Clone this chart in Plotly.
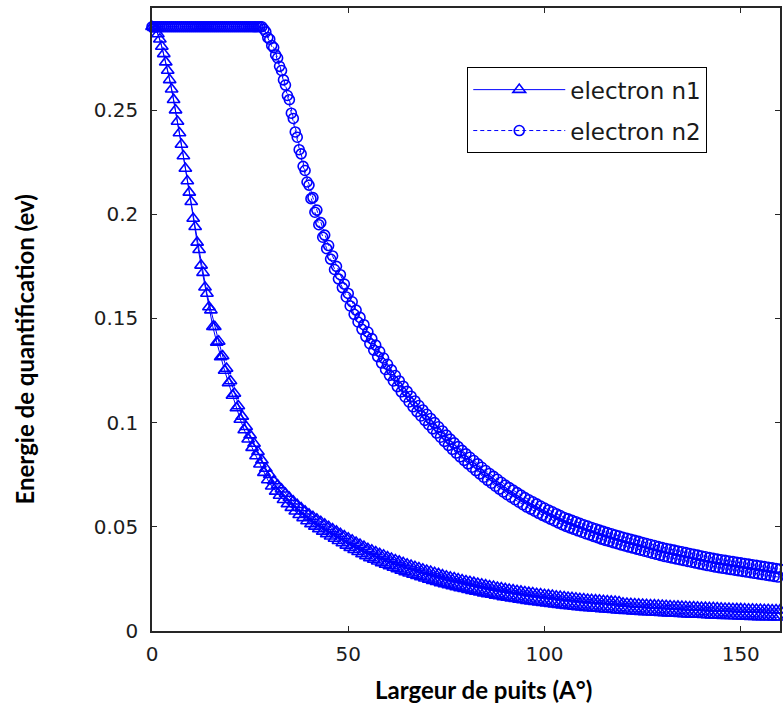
import plotly.graph_objects as go

# Well width (Angstrom): main sweep on whole values, second sweep offset by half a step
largeur = list(range(0, 161))
largeur_b = [v + 0.5 for v in range(0, 160)]

# First electron level (eV), main sweep
electron_n1 = [
    0.290, 0.289, 0.284, 0.277, 0.269, 0.260, 0.250, 0.239, 0.228, 0.216,
    0.206, 0.194, 0.183, 0.172, 0.162, 0.154, 0.146, 0.139, 0.132, 0.126,
    0.120, 0.114, 0.108, 0.103, 0.098, 0.094, 0.090, 0.086, 0.082, 0.078,
    0.075, 0.072, 0.070, 0.068, 0.066, 0.064, 0.0623, 0.0606, 0.0590, 0.0575,
    0.0560, 0.0548, 0.0536, 0.0524, 0.0512, 0.0500, 0.0489, 0.0478, 0.0467, 0.0456,
    0.0445, 0.0435, 0.0425, 0.0415, 0.0405, 0.0395, 0.0387, 0.0379, 0.0371, 0.0363,
    0.0355, 0.0348, 0.0341, 0.0334, 0.0327, 0.0320, 0.0314, 0.0308, 0.0302, 0.0296,
    0.0290, 0.0285, 0.0279, 0.0274, 0.0268, 0.0263, 0.0258, 0.0254, 0.0249, 0.0245,
    0.0240, 0.0236, 0.0232, 0.0228, 0.0224, 0.0220, 0.0216, 0.0213, 0.0209, 0.0206,
    0.0202, 0.0199, 0.0196, 0.0193, 0.0190, 0.0187, 0.0184, 0.0182, 0.0179, 0.0177,
    0.0174, 0.0172, 0.0170, 0.0167, 0.0165, 0.0163, 0.0161, 0.0159, 0.0157, 0.0155,
    0.0153, 0.0151, 0.0150, 0.0148, 0.0147, 0.0145, 0.0144, 0.0142, 0.0141, 0.0139,
    0.0133, 0.0132, 0.0131, 0.0129, 0.0128, 0.0127, 0.0126, 0.0125, 0.0124, 0.0123,
    0.0122, 0.0121, 0.0120, 0.0119, 0.0118, 0.0117, 0.0116, 0.0115, 0.0115, 0.0114,
    0.0113, 0.0112, 0.0111, 0.0111, 0.0110, 0.0109, 0.0108, 0.0108, 0.0107, 0.0106,
    0.0106, 0.0105, 0.0104, 0.0104, 0.0103, 0.0103, 0.0102, 0.0102, 0.0101, 0.0101,
    0.0100,
]

# First electron level (eV), second sweep
electron_n1_b = [
    0.2895, 0.2865, 0.2805, 0.2730, 0.2645, 0.2550, 0.2445, 0.2335, 0.2220, 0.2105,
    0.1980, 0.1865, 0.1755, 0.1650, 0.1555, 0.1460, 0.1385, 0.1315, 0.1250, 0.1190,
    0.1130, 0.1070, 0.1015, 0.0965, 0.0920, 0.0880, 0.0840, 0.0800, 0.0760, 0.0725,
    0.0695, 0.0670, 0.0650, 0.0630, 0.0610, 0.0592, 0.0575, 0.0558, 0.0543, 0.0528,
    0.0514, 0.0502, 0.0490, 0.0478, 0.0466, 0.0455, 0.0444, 0.0433, 0.0422, 0.0411,
    0.0400, 0.0390, 0.0380, 0.0370, 0.0360, 0.0351, 0.0343, 0.0335, 0.0327, 0.0319,
    0.0312, 0.0305, 0.0298, 0.0291, 0.0284, 0.0277, 0.0271, 0.0265, 0.0259, 0.0253,
    0.0248, 0.0242, 0.0237, 0.0231, 0.0226, 0.0221, 0.0216, 0.0212, 0.0207, 0.0203,
    0.0198, 0.0194, 0.0190, 0.0186, 0.0182, 0.0178, 0.0175, 0.0171, 0.0168, 0.0164,
    0.0161, 0.0158, 0.0155, 0.0152, 0.0149, 0.0146, 0.0143, 0.0141, 0.0138, 0.0136,
    0.0133, 0.0131, 0.0129, 0.0126, 0.0124, 0.0122, 0.0120, 0.0118, 0.0116, 0.0114,
    0.0112, 0.0111, 0.0109, 0.0108, 0.0106, 0.0105, 0.0103, 0.0102, 0.0100, 0.0099,
    0.0098, 0.0097, 0.0095, 0.0094, 0.0093, 0.0092, 0.0091, 0.0090, 0.0089, 0.0088,
    0.0087, 0.0086, 0.0085, 0.0084, 0.0083, 0.0082, 0.0081, 0.0080, 0.0080, 0.0079,
    0.0078, 0.0077, 0.0076, 0.0076, 0.0075, 0.0074, 0.0073, 0.0073, 0.0072, 0.0071,
    0.0071, 0.0070, 0.0069, 0.0069, 0.0068, 0.0068, 0.0067, 0.0067, 0.0066, 0.0066,
]

# Second electron level (eV), main sweep
electron_n2 = [
    0.290, 0.290, 0.290, 0.290, 0.290, 0.290, 0.290, 0.290, 0.290, 0.290,
    0.290, 0.290, 0.290, 0.290, 0.290, 0.290, 0.290, 0.290, 0.290, 0.290,
    0.290, 0.290, 0.290, 0.290, 0.290, 0.290, 0.290, 0.290, 0.290, 0.2875,
    0.284, 0.280, 0.275, 0.269, 0.262, 0.255, 0.246, 0.237, 0.229, 0.221,
    0.214, 0.208, 0.202, 0.196, 0.190, 0.185, 0.180, 0.175, 0.171, 0.1665,
    0.162, 0.158, 0.154, 0.1505, 0.147, 0.1435, 0.1403, 0.1372, 0.1341, 0.1310,
    0.1280, 0.1253, 0.1226, 0.1200, 0.1175, 0.1150, 0.1127, 0.1104, 0.1082, 0.1061,
    0.1040, 0.1020, 0.1000, 0.0980, 0.0960, 0.0940, 0.0921, 0.0903, 0.0885, 0.0867,
    0.0850, 0.0834, 0.0818, 0.0802, 0.0786, 0.0770, 0.0756, 0.0742, 0.0728, 0.0714,
    0.0700, 0.0688, 0.0676, 0.0664, 0.0652, 0.0640, 0.0630, 0.0620, 0.0610, 0.0600,
    0.0590, 0.0581, 0.0572, 0.0563, 0.0554, 0.0545, 0.0538, 0.0531, 0.0524, 0.0517,
    0.0510, 0.0504, 0.0497, 0.0491, 0.0484, 0.0478, 0.0472, 0.0467, 0.0461, 0.0456,
    0.0450, 0.0445, 0.0440, 0.0435, 0.0430, 0.0425, 0.0420, 0.0415, 0.0410, 0.0405,
    0.0400, 0.0396, 0.0392, 0.0388, 0.0384, 0.0380, 0.0376, 0.0372, 0.0368, 0.0364,
    0.0360, 0.0356, 0.0352, 0.0349, 0.0345, 0.0342, 0.0339, 0.0336, 0.0333, 0.0330,
    0.0327, 0.0324, 0.0321, 0.0318, 0.0315, 0.0312, 0.0309, 0.0306, 0.0303, 0.0300,
    0.0297,
]

# Second electron level (eV), second sweep
electron_n2_b = [
    0.2900, 0.2900, 0.2900, 0.2900, 0.2900, 0.2900, 0.2900, 0.2900, 0.2900, 0.2900,
    0.2900, 0.2900, 0.2900, 0.2900, 0.2900, 0.2900, 0.2900, 0.2900, 0.2900, 0.2900,
    0.2900, 0.2900, 0.2900, 0.2900, 0.2900, 0.2900, 0.2900, 0.2900, 0.2888, 0.2848,
    0.2810, 0.2765, 0.2710, 0.2645, 0.2570, 0.2485, 0.2395, 0.2310, 0.2230, 0.2155,
    0.2075, 0.2010, 0.1950, 0.1890, 0.1835, 0.1785, 0.1735, 0.1690, 0.1648, 0.1603,
    0.1560, 0.1520, 0.1483, 0.1448, 0.1413, 0.1379, 0.1348, 0.1317, 0.1286, 0.1255,
    0.1227, 0.1200, 0.1173, 0.1148, 0.1123, 0.1099, 0.1076, 0.1053, 0.1032, 0.1011,
    0.0990, 0.0970, 0.0950, 0.0930, 0.0910, 0.0891, 0.0872, 0.0854, 0.0836, 0.0819,
    0.0802, 0.0786, 0.0770, 0.0754, 0.0738, 0.0723, 0.0709, 0.0695, 0.0681, 0.0667,
    0.0654, 0.0642, 0.0630, 0.0618, 0.0606, 0.0595, 0.0585, 0.0575, 0.0565, 0.0555,
    0.0546, 0.0537, 0.0528, 0.0519, 0.0510, 0.0502, 0.0495, 0.0488, 0.0481, 0.0474,
    0.0467, 0.0461, 0.0454, 0.0448, 0.0441, 0.0435, 0.0430, 0.0424, 0.0419, 0.0413,
    0.0408, 0.0403, 0.0398, 0.0393, 0.0388, 0.0383, 0.0378, 0.0373, 0.0368, 0.0363,
    0.0358, 0.0354, 0.0350, 0.0346, 0.0342, 0.0338, 0.0334, 0.0330, 0.0326, 0.0322,
    0.0318, 0.0314, 0.0311, 0.0307, 0.0304, 0.0301, 0.0298, 0.0295, 0.0292, 0.0289,
    0.0286, 0.0283, 0.0280, 0.0277, 0.0274, 0.0271, 0.0268, 0.0265, 0.0262, 0.0259,
]

x_ticks = [0, 50, 100, 150]
y_ticks = [0, 0.05, 0.1, 0.15, 0.2, 0.25]
y_tick_labels = ["0", "0.05", "0.1", "0.15", "0.2", "0.25"]

BLUE = "#0000FF"
TICK_FONT = dict(family="DejaVu Sans, sans-serif", size=20, color="#1c1c1c")
TITLE_FONT = dict(family="Lato, Open Sans, sans-serif", size=24, color="#000000")

tri = dict(symbol="triangle-up-open", size=11, color=BLUE, line=dict(width=1.6))
circ = dict(symbol="circle-open", size=10, color=BLUE, line=dict(width=1.6))
solid = dict(color=BLUE, width=1)
dashed = dict(color=BLUE, width=1, dash="4px,3px")

fig = go.Figure()
fig.add_trace(go.Scatter(
    x=largeur, y=electron_n1, name="electron n1", legendgroup="n1",
    mode="lines+markers", line=solid, marker=tri, cliponaxis=False,
))
fig.add_trace(go.Scatter(
    x=largeur_b, y=electron_n1_b, name="electron n1", legendgroup="n1", showlegend=False,
    mode="lines+markers", line=solid, marker=tri, cliponaxis=False,
))
fig.add_trace(go.Scatter(
    x=largeur, y=electron_n2, name="electron n2", legendgroup="n2",
    mode="lines+markers", line=dashed, marker=circ, cliponaxis=False,
))
fig.add_trace(go.Scatter(
    x=largeur_b, y=electron_n2_b, name="electron n2", legendgroup="n2", showlegend=False,
    mode="lines+markers", line=dashed, marker=circ, cliponaxis=False,
))

axis_common = dict(
    showline=True, linecolor="#262626", linewidth=1.5, mirror="ticks",
    ticks="inside", ticklen=5, tickcolor="#262626", tickwidth=1,
    showgrid=False, zeroline=False, tickfont=TICK_FONT,
)

fig.update_xaxes(range=[0, 160], tickvals=x_ticks, ticktext=[str(v) for v in x_ticks],
                 ticklabelstandoff=4, **axis_common)
fig.update_yaxes(range=[0, 0.299], tickvals=y_ticks, ticktext=y_tick_labels,
                 ticklabelstandoff=8, **axis_common)

fig.add_annotation(
    text="<b>Largeur de puits (A°)</b>", xref="paper", yref="paper",
    x=0.5286, y=-0.0947, xanchor="center", yanchor="middle",
    showarrow=False, font=TITLE_FONT,
)
fig.add_annotation(
    text="<b>Energie de quantification (ev)</b>", xref="paper", yref="paper",
    x=-0.203, y=0.451, xanchor="center", yanchor="middle", textangle=-90,
    showarrow=False, font=TITLE_FONT,
)

fig.update_layout(
    width=783, height=709,
    margin=dict(l=152, r=1, t=8, b=78),
    paper_bgcolor="white", plot_bgcolor="white",
    showlegend=True,
    legend=dict(
        x=0.502, y=0.905, xanchor="left", yanchor="top",
        bgcolor="white", bordercolor="#000000", borderwidth=1,
        font=dict(family="DejaVu Sans, sans-serif", size=23, color="#1a1a1a"),
        itemwidth=92, traceorder="grouped", tracegroupgap=8,
    ),
)

fig.write_html("out.html")
